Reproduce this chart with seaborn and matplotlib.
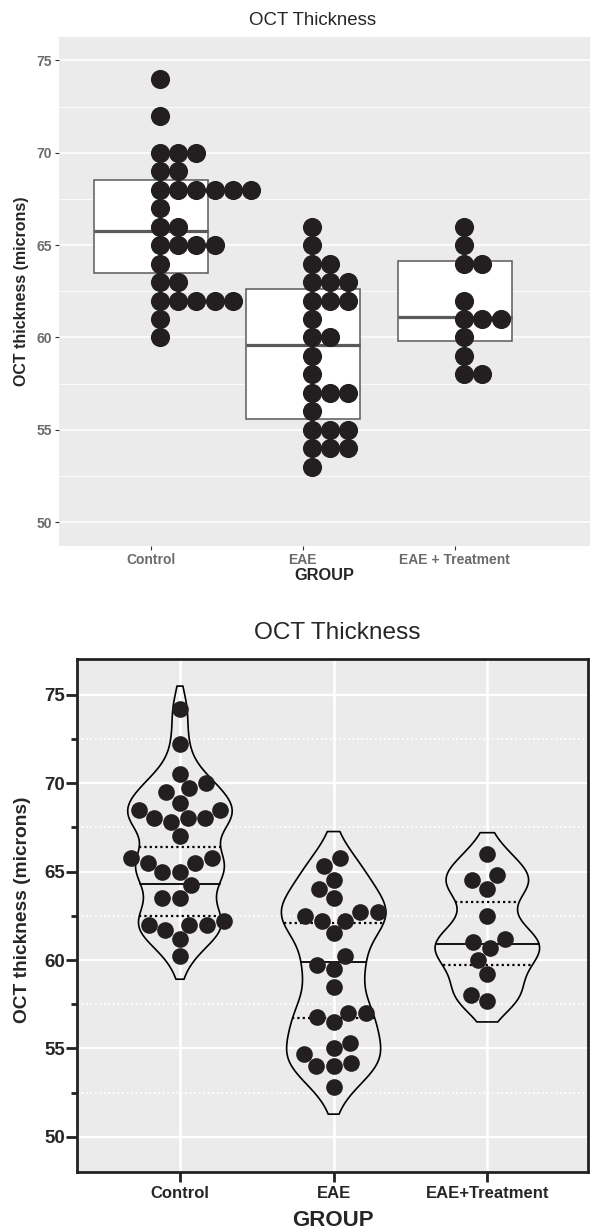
import numpy as np
import pandas as pd
import seaborn as sns
import matplotlib.pyplot as plt
from collections import Counter


groups_top = ["Control", "EAE", "EAE + Treatment"]
groups_bottom = ["Control", "EAE", "EAE+Treatment"]

# measured OCT thickness per eye (microns)
control = [74.2, 72.2, 70.5, 70.0, 69.7, 69.5, 68.9, 68.5, 68.5, 68.0,
           68.0, 68.0, 67.8, 67.0, 65.75, 65.75, 65.5, 65.5, 65.0, 65.0,
           64.25, 63.5, 63.5, 62.2, 62.0, 62.0, 62.0, 61.7, 61.2, 60.2]
eae = [65.75, 65.3, 64.5, 64.0, 63.5, 62.7, 62.7, 62.5, 62.2, 62.2,
       61.5, 60.2, 59.7, 59.5, 58.5, 57.0, 57.0, 56.8, 56.5, 55.3,
       55.0, 54.7, 54.2, 54.0, 54.0, 52.8]
eae_treat = [66.0, 64.8, 64.5, 64.0, 62.5, 61.2, 61.0, 60.7, 60.0, 59.2,
             58.0, 57.7]

# binned values shown in the dot plot (binwidth 1)
control_bins = [74, 72, 70, 70, 70, 69, 69, 68, 68, 68, 68, 68, 68, 67,
                66, 66, 65, 65, 65, 65, 64, 63, 63, 62, 62, 62, 62, 62, 61, 60]
eae_bins = [66, 65, 64, 64, 63, 63, 63, 62, 62, 62, 61, 60, 60, 59, 58,
            57, 57, 57, 56, 55, 55, 55, 54, 54, 54, 53]
treat_bins = [66, 65, 64, 64, 62, 61, 61, 61, 60, 59, 58, 58]

# quartile lines drawn on the violins
violin_q1 = [62.5, 56.7, 59.7]
violin_median = [64.3, 59.9, 60.9]
violin_q3 = [66.4, 62.1, 63.3]

y_ticks = [50, 55, 60, 65, 70, 75]
y_minor = [52.5, 57.5, 62.5, 67.5, 72.5]

DOT = "#231f20"
PANEL = "#ebebeb"


def violin_span(coll, y):
    # left/right edge of a violin outline at height y
    xs = []
    for path in coll.get_paths():
        v = np.asarray(path.vertices)
        v = np.vstack([v, v[:1]])
        for (x0, y0), (x1, y1) in zip(v[:-1], v[1:]):
            if y0 != y1 and min(y0, y1) <= y <= max(y0, y1):
                xs.append(x0 + (y - y0) * (x1 - x0) / (y1 - y0))
    return min(xs), max(xs)


def main():
    sns.set_style("white")
    plt.rcParams["font.family"] = ["Liberation Sans", "DejaVu Sans"]

    values = [control, eae, eae_treat]
    df_top = pd.DataFrame({
        "group": np.repeat(groups_top, [len(v) for v in values]),
        "value": np.concatenate(values),
    })
    df_bot = df_top.copy()
    df_bot["group"] = np.repeat(groups_bottom, [len(v) for v in values])

    fig = plt.figure(figsize=(5.9, 12.3), dpi=100)

    # ---------- top panel: box + dot plot (ggplot look)
    ax1 = fig.add_axes([0.1005, 0.5563, 0.8995, 0.4139])
    ax1.set_facecolor(PANEL)
    sns.boxplot(data=df_top, x="group", y="value", ax=ax1, width=0.75,
                color="white", linecolor="#5a5a5a", linewidth=1.1,
                showfliers=False, showcaps=False,
                whiskerprops={"visible": False},
                medianprops={"linewidth": 2.3})

    rows = []
    for gi, bins in enumerate([control_bins, eae_bins, treat_bins]):
        for v, n in sorted(Counter(bins).items()):
            for k in range(n):
                rows.append((gi + (k + 0.5) * 0.12, v))
    dots = pd.DataFrame(rows, columns=["x", "y"])
    sns.scatterplot(data=dots, x="x", y="y", ax=ax1, s=190, color=DOT,
                    linewidth=0, zorder=3, legend=False)

    ax1.set_xlim(-0.601, 2.888)
    ax1.set_ylim(48.73, 76.28)
    ax1.set_xticks([0, 1, 2], groups_top)
    ax1.set_yticks(y_ticks)
    ax1.set_yticks(y_minor, minor=True)
    ax1.set_axisbelow(True)
    ax1.grid(axis="y", which="major", color="white", lw=1.1)
    ax1.grid(axis="y", which="minor", color="white", lw=0.55)
    ax1.grid(axis="x", visible=False)
    for s in ax1.spines.values():
        s.set_visible(False)
    ax1.tick_params(which="major", length=3, width=0.8, color="#333333",
                    labelcolor="#6b6b6b", labelsize=10, pad=2.5,
                    bottom=True, left=True)
    ax1.tick_params(which="minor", length=0)
    for lab in ax1.get_xticklabels() + ax1.get_yticklabels():
        lab.set_fontweight("bold")
    ax1.set_xlabel("GROUP", fontsize=11.8, fontweight="bold", va="top")
    ax1.set_ylabel("OCT thickness (microns)", fontsize=11.5, fontweight="bold")
    ax1.xaxis.set_label_coords(0.5, -0.044)
    ax1.yaxis.set_label_coords(-0.058, 0.5)
    fig.text(312.5 / 590, 1 - 25 / 1230, "OCT Thickness", ha="center",
             va="baseline", fontsize=13.4)

    # ---------- bottom panel: violin + scatter (Prism look)
    ax2 = fig.add_axes([0.131, 0.0469, 0.8661, 0.4171])
    ax2.set_facecolor(PANEL)
    n0 = len(ax2.collections)
    sns.violinplot(data=df_bot, x="group", y="value", ax=ax2, inner=None,
                   fill=False, color="black", linecolor="black",
                   linewidth=1.2, width=0.68, density_norm="width",
                   bw_adjust=0.6, cut=1.2)
    violins = ax2.collections[n0:]
    for coll, q1, med, q3 in zip(violins, violin_q1, violin_median, violin_q3):
        for yv, ls in [(q1, (0, (1, 1.4))), (med, "-"), (q3, (0, (1, 1.4)))]:
            x0, x1 = violin_span(coll, yv)
            ax2.plot([x0, x1], [yv, yv], color="black", ls=ls,
                     lw=1.6 if ls != "-" else 1.3, zorder=2.5)

    sns.swarmplot(data=df_bot, x="group", y="value", ax=ax2, size=12,
                  color=DOT, linewidth=0, zorder=3)

    ax2.set_xlim(-0.668, 2.657)
    ax2.set_ylim(48, 77)
    ax2.set_xticks([0, 1, 2], groups_bottom)
    ax2.set_yticks(y_ticks)
    ax2.set_yticks(y_minor, minor=True)
    ax2.set_axisbelow(True)
    ax2.grid(axis="y", which="major", color="white", lw=1.6)
    ax2.grid(axis="y", which="minor", color="white", lw=1.3,
             ls=(0, (1, 1.5)))
    ax2.grid(axis="x", which="major", color="white", lw=1.8)
    for s in ax2.spines.values():
        s.set_visible(True)
        s.set_linewidth(2)
        s.set_color("#222222")
    ax2.tick_params(axis="y", which="major", length=7.7, width=2,
                    labelsize=13.5, pad=1, color="#222222", left=True)
    ax2.tick_params(axis="y", which="minor", length=4.6, width=2,
                    color="#222222", left=True)
    ax2.tick_params(axis="x", which="major", length=7.5, width=2,
                    labelsize=12, pad=2.5, color="#222222", bottom=True)
    ax2.tick_params(axis="x", which="minor", length=0)
    for lab in ax2.get_xticklabels() + ax2.get_yticklabels():
        lab.set_fontweight("bold")
    ax2.set_xlabel("GROUP", fontsize=16, fontweight="bold", va="baseline")
    ax2.set_ylabel("OCT thickness (microns)", fontsize=13.8,
                   fontweight="bold")
    ax2.xaxis.set_label_coords(0.5, -0.1045)
    ax2.yaxis.set_label_coords(-0.09, 0.511)
    fig.text(337 / 590, 1 - 639 / 1230, "OCT Thickness", ha="center",
             va="baseline", fontsize=17.6)

    fig.savefig("out.png", dpi=100)
    plt.close(fig)


if __name__ == '__main__':
    main()
